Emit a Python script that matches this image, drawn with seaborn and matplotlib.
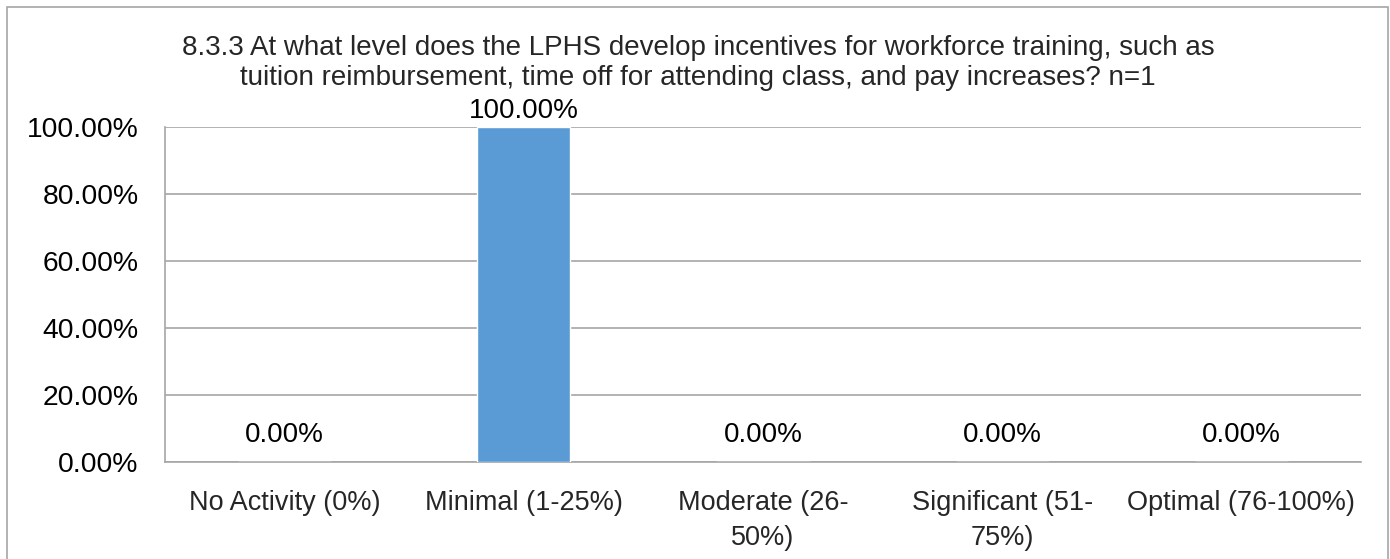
import matplotlib
matplotlib.use("Agg")
import matplotlib.pyplot as plt
import seaborn as sns
import pandas as pd
from matplotlib.patches import Rectangle
from matplotlib.ticker import FixedLocator, PercentFormatter

categories = ["No Activity (0%)", "Minimal (1-25%)", "Moderate (26-\n50%)",
              "Significant (51-\n75%)", "Optimal (76-100%)"]
values = [0.0, 100.0, 0.0, 0.0, 0.0]
y_ticks = [0, 20, 40, 60, 80, 100]
title = ("8.3.3 At what level does the LPHS develop incentives for workforce training, such as\n"
         "tuition reimbursement, time off for attending class, and pay increases? n=1")

sns.set_theme(style="white")
plt.rcParams["font.family"] = ["Liberation Sans", "DejaVu Sans"]

bar_color = "#5B9BD5"
line_color = "#A6A6A6"

df = pd.DataFrame({"level": categories, "pct": values})

W, H = 1390, 559
fig = plt.figure(figsize=(W / 100, H / 100), dpi=100)
ax = fig.add_axes([165 / W, 1 - 462 / H, (1361 - 165) / W, (462 - 127) / H])

sns.barplot(data=df, x="level", y="pct", color=bar_color, width=0.39,
            saturation=1, ax=ax, zorder=3)

y_max = 100
ax.set_ylim(0, y_max)
ax.set_xlim(-0.5, len(categories) - 0.5)
ax.yaxis.set_major_locator(FixedLocator(y_ticks))
ax.yaxis.set_major_formatter(PercentFormatter(decimals=2))
ax.grid(axis="y", color=line_color, linewidth=1.2, zorder=0)
ax.set_xlabel("")
ax.set_ylabel("")

for side in ["top", "right"]:
    ax.spines[side].set_visible(False)
for side in ["left", "bottom"]:
    ax.spines[side].set_color(line_color)
    ax.spines[side].set_linewidth(1.2)

# category labels centred under bars, tick marks at category boundaries
ax.set_xticks(range(len(categories)))
ax.set_xticklabels(categories, fontsize=19.5, linespacing=1.45)
ax.tick_params(axis="x", length=0, pad=20)
ax.set_xticks([i - 0.5 for i in range(len(categories) + 1)], minor=True)
ax.tick_params(axis="x", which="minor", length=7, width=1.2, color=line_color,
               direction="out")
ax.tick_params(axis="y", length=9, width=1.2, color=line_color, direction="out",
               labelsize=20.3, pad=10)
for lbl in ax.get_yticklabels():
    lbl.set_color("black")

# value labels; a label at the top of the scale sits closer to its bar
for i, v in enumerate(values):
    offset = 2.0 if v >= y_max else 10.0
    ax.annotate(f"{v:.2f}%", (i, v), xytext=(0, offset), textcoords="offset points",
                ha="center", va="bottom", fontsize=20, color="black",
                annotation_clip=False)

fig.text(698 / W, 1 - 63 / H, title, ha="center", va="center", fontsize=20,
         linespacing=1.22)

fig.patches.append(Rectangle((7 / W, -0.01), (1388 - 7) / W, 1 - 7 / H + 0.01,
                             transform=fig.transFigure, fill=False,
                             edgecolor=line_color, linewidth=1.2))

fig.savefig("out.png", dpi=100, facecolor="white")
